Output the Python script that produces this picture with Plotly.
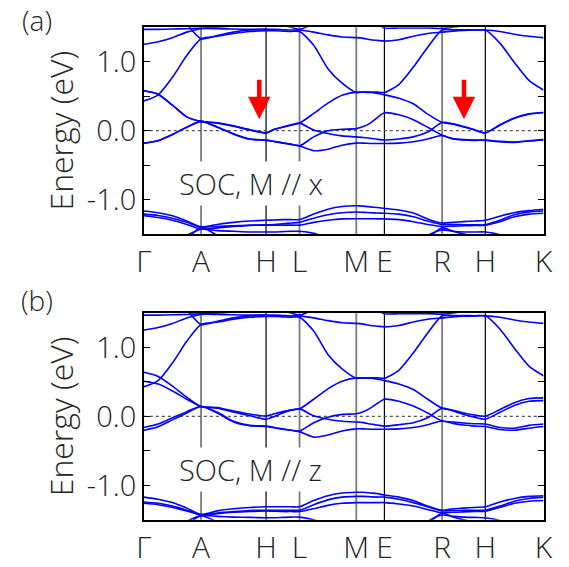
import plotly.graph_objects as go
from plotly.subplots import make_subplots

# ---------------- data ----------------
K_LABELS = ["Γ", "A", "H", "L", "M", "E", "R", "H", "K"]
K_POS = [0.0, 0.59, 1.26, 1.605, 2.19, 2.48, 3.075, 3.52, 4.12]
FRACS = [0.0, 0.25, 0.5, 0.75]

# conduction bands (shared by both panels)
C1 = [[0.43, 0.52, 0.775, 1.09, 1.335], [1.335, 1.37, 1.41, 1.44, 1.45], [1.45, 1.45, 1.445, 1.44, 1.44],
      [1.44, 1.24, 0.90, 0.69, 0.555], [0.555, 0.56, 0.56, 0.56, 0.555], [0.555, 0.67, 0.92, 1.21, 1.46],
      [1.46, 1.465, 1.465, 1.46, 1.46], [1.46, 1.27, 0.99, 0.73, 0.59]]
C2 = [[1.255, 1.29, 1.35, 1.43, 1.48], [1.48, 1.48, 1.475, 1.47, 1.47], [1.47, 1.47, 1.465, 1.46, 1.46],
      [1.46, 1.43, 1.39, 1.36, 1.35], [1.35, 1.34, 1.32, 1.31, 1.30], [1.30, 1.32, 1.37, 1.41, 1.43],
      [1.43, 1.445, 1.455, 1.46, 1.46], [1.46, 1.44, 1.40, 1.37, 1.35]]
C3 = [[1.47, 1.47, 1.475, 1.48, 1.49], [1.49, 1.50, 1.52, 1.55, 1.58], [1.58, 1.56, 1.53, 1.50, 1.47],
      [1.47, 1.55, 1.65, 1.72, 1.75], [1.75, 1.70, 1.62, 1.55, 1.49], [1.49, 1.49, 1.49, 1.49, 1.485],
      [1.485, 1.50, 1.53, 1.57, 1.60], [1.60, 1.65, 1.70, 1.72, 1.73]]
C4 = [[2.3, 2.05, 1.78, 1.55, 1.335], [1.335, 1.38, 1.43, 1.46, 1.47], [None] * 5, [None] * 5,
      [None] * 5, [None] * 5, [None] * 5, [None] * 5]

# panel (a): M // x
MA1 = [[0.58, 0.53, 0.37, 0.20, 0.135], [0.135, 0.11, 0.065, 0.01, -0.035], [-0.035, 0.02, 0.05, 0.08, 0.11],
       [0.11, 0.25, 0.40, 0.515, 0.56], [0.56, 0.56, 0.555, 0.54, 0.52], [0.52, 0.47, 0.39, 0.24, 0.12],
       [0.12, 0.095, 0.055, 0.01, -0.035], [-0.035, 0.08, 0.18, 0.24, 0.26]]
MA2 = [[-0.18, -0.145, -0.055, 0.05, 0.135], [0.135, 0.05, -0.05, -0.125, -0.14], [-0.14, -0.16, -0.18, -0.20, -0.22],
       [-0.22, -0.29, -0.27, -0.21, -0.18], [-0.18, -0.18, -0.185, -0.185, -0.185], [-0.185, -0.18, -0.16, -0.12, -0.07],
       [-0.07, -0.12, -0.135, -0.14, -0.14], [-0.14, -0.16, -0.17, -0.15, -0.135]]
MA3 = [[0.58, 0.53, 0.37, 0.20, 0.135], [0.135, 0.115, 0.07, 0.015, -0.03], [-0.03, 0.02, 0.055, 0.085, 0.11],
       [0.11, 0.01, -0.04, -0.075, -0.09], [-0.09, -0.10, -0.11, -0.125, -0.135], [-0.135, -0.12, -0.09, -0.02, 0.12],
       [0.12, 0.10, 0.06, 0.015, -0.03], [-0.03, 0.085, 0.185, 0.245, 0.265]]
MA4 = [[-0.18, -0.145, -0.055, 0.05, 0.135], [0.135, 0.055, -0.045, -0.12, -0.135], [-0.135, -0.155, -0.175, -0.195, -0.22],
       [-0.22, -0.09, -0.0, 0.02, 0.03], [0.03, 0.06, 0.11, 0.19, 0.26], [0.26, 0.23, 0.16, 0.05, -0.065],
       [-0.065, -0.115, -0.13, -0.135, -0.135], [-0.135, -0.155, -0.165, -0.145, -0.13]]
VA1 = [[-1.165, -1.19, -1.235, -1.31, -1.395], [-1.395, -1.36, -1.33, -1.31, -1.30], [-1.30, -1.295, -1.29, -1.29, -1.29],
       [-1.29, -1.21, -1.14, -1.10, -1.09], [-1.09, -1.095, -1.105, -1.115, -1.127], [-1.127, -1.15, -1.195, -1.28, -1.34],
       [-1.34, -1.33, -1.32, -1.31, -1.30], [-1.30, -1.24, -1.19, -1.16, -1.14]]
VA2 = [[-1.21, -1.23, -1.27, -1.33, -1.40], [-1.40, -1.39, -1.38, -1.37, -1.365], [-1.365, -1.36, -1.35, -1.34, -1.33],
       [-1.33, -1.27, -1.22, -1.19, -1.18], [-1.18, -1.185, -1.19, -1.195, -1.197], [-1.197, -1.21, -1.25, -1.31, -1.36],
       [-1.36, -1.362, -1.364, -1.366, -1.366], [-1.366, -1.30, -1.22, -1.18, -1.165]]
VA3 = [[-1.235, -1.26, -1.30, -1.36, -1.43], [-1.43, -1.41, -1.39, -1.375, -1.37], [-1.37, -1.37, -1.37, -1.37, -1.37],
       [-1.37, -1.33, -1.30, -1.28, -1.277], [-1.277, -1.277, -1.278, -1.279, -1.28], [-1.28, -1.29, -1.32, -1.36, -1.39],
       [-1.39, -1.385, -1.38, -1.375, -1.37], [-1.37, -1.32, -1.25, -1.21, -1.197]]
VA4 = [[-1.85, -1.75, -1.65, -1.52, -1.43], [-1.43, -1.45, -1.46, -1.47, -1.47], [-1.47, -1.47, -1.465, -1.46, -1.46],
       [-1.46, -1.49, -1.56, -1.65, -1.72], [-1.72, -1.75, -1.78, -1.80, -1.82], [-1.82, -1.80, -1.68, -1.52, -1.44],
       [-1.44, -1.46, -1.47, -1.47, -1.47], [-1.47, -1.51, -1.60, -1.70, -1.78]]
VA5 = [[-2.0, -1.9, -1.8, -1.58, -1.40], [-1.40, -1.52, -1.62, -1.70, -1.75], [-1.75, -1.75, -1.75, -1.75, -1.75],
       [-1.75, -1.78, -1.80, -1.82, -1.84], [-1.84, -1.85, -1.86, -1.86, -1.85], [-1.85, -1.82, -1.72, -1.56, -1.41],
       [-1.41, -1.46, -1.50, -1.53, -1.55], [-1.55, -1.60, -1.68, -1.75, -1.80]]

# panel (b): M // z
MB1 = [[0.64, 0.58, 0.44, 0.28, 0.145], [0.145, 0.13, 0.08, 0.035, 0.005], [0.005, 0.04, 0.07, 0.095, 0.11],
       [0.11, 0.25, 0.40, 0.51, 0.56], [0.56, 0.56, 0.555, 0.54, 0.52], [0.52, 0.47, 0.39, 0.25, 0.12],
       [0.12, 0.09, 0.05, 0.02, 0.005], [0.005, 0.10, 0.20, 0.26, 0.27]]
MB2 = [[0.51, 0.47, 0.37, 0.25, 0.145], [0.145, 0.12, 0.065, 0.01, -0.04], [-0.04, 0.0, 0.05, 0.09, 0.11],
       [0.11, 0.01, -0.04, -0.07, -0.08], [-0.08, -0.09, -0.11, -0.125, -0.14], [-0.14, -0.12, -0.09, -0.02, 0.12],
       [0.12, 0.08, 0.03, -0.01, -0.04], [-0.04, 0.06, 0.16, 0.22, 0.23]]
MB3 = [[-0.16, -0.11, -0.02, 0.07, 0.145], [0.145, 0.06, -0.07, -0.13, -0.14], [-0.14, -0.16, -0.18, -0.20, -0.21],
       [-0.21, -0.09, -0.01, 0.03, 0.04], [0.04, 0.07, 0.12, 0.19, 0.25], [0.25, 0.22, 0.15, 0.05, -0.065],
       [-0.065, -0.08, -0.095, -0.105, -0.11], [-0.11, -0.16, -0.17, -0.13, -0.11]]
MB4 = [[-0.20, -0.15, -0.05, 0.05, 0.145], [0.145, 0.05, -0.08, -0.135, -0.145], [-0.145, -0.165, -0.185, -0.20, -0.22],
       [-0.22, -0.30, -0.27, -0.21, -0.18], [-0.18, -0.18, -0.185, -0.185, -0.185], [-0.185, -0.18, -0.16, -0.12, -0.065],
       [-0.065, -0.10, -0.125, -0.14, -0.145], [-0.145, -0.19, -0.20, -0.17, -0.145]]
VB1 = [[-1.17, -1.20, -1.25, -1.33, -1.42], [-1.42, -1.37, -1.34, -1.32, -1.31], [-1.31, -1.31, -1.31, -1.31, -1.31],
       [-1.31, -1.22, -1.15, -1.11, -1.10], [-1.10, -1.10, -1.11, -1.12, -1.14], [-1.14, -1.17, -1.22, -1.30, -1.36],
       [-1.36, -1.34, -1.33, -1.32, -1.31], [-1.31, -1.24, -1.19, -1.16, -1.15]]
VB2 = [[-1.24, -1.26, -1.30, -1.36, -1.43], [-1.43, -1.40, -1.38, -1.365, -1.36], [-1.36, -1.36, -1.36, -1.36, -1.36],
       [-1.36, -1.28, -1.21, -1.17, -1.16], [-1.16, -1.16, -1.165, -1.17, -1.17], [-1.17, -1.20, -1.25, -1.31, -1.37],
       [-1.37, -1.365, -1.36, -1.36, -1.36], [-1.36, -1.30, -1.23, -1.19, -1.17]]
VB3 = [[-1.26, -1.28, -1.32, -1.37, -1.43], [-1.43, -1.41, -1.39, -1.38, -1.37], [-1.37, -1.375, -1.38, -1.38, -1.38],
       [-1.38, -1.34, -1.29, -1.26, -1.25], [-1.25, -1.25, -1.25, -1.25, -1.25], [-1.25, -1.27, -1.30, -1.35, -1.40],
       [-1.40, -1.39, -1.385, -1.38, -1.375], [-1.375, -1.32, -1.26, -1.23, -1.22]]
VB4 = [[-1.85, -1.75, -1.64, -1.52, -1.44], [-1.44, -1.45, -1.46, -1.465, -1.47], [-1.47, -1.47, -1.465, -1.46, -1.46],
       [-1.46, -1.50, -1.57, -1.65, -1.72], [-1.72, -1.75, -1.78, -1.80, -1.82], [-1.82, -1.80, -1.68, -1.52, -1.43],
       [-1.43, -1.45, -1.46, -1.465, -1.47], [-1.47, -1.51, -1.60, -1.70, -1.78]]
VB5 = [[-2.0, -1.9, -1.8, -1.58, -1.44], [-1.44, -1.53, -1.62, -1.70, -1.75], [-1.75, -1.75, -1.75, -1.75, -1.75],
       [-1.75, -1.78, -1.80, -1.82, -1.84], [-1.84, -1.85, -1.86, -1.86, -1.85], [-1.85, -1.82, -1.72, -1.56, -1.40],
       [-1.40, -1.46, -1.50, -1.53, -1.55], [-1.55, -1.60, -1.68, -1.75, -1.80]]

PANEL_A_BANDS = [C1, C2, C3, C4, MA1, MA2, MA3, MA4, VA1, VA2, VA3, VA4, VA5]
PANEL_B_BANDS = [C1, C2, C3, C4, MB1, MB2, MB3, MB4, VB1, VB2, VB3, VB4, VB5]
PANEL_TEXT = ["SOC, M // x", "SOC, M // z"]
PANEL_TAG = ["(a)", "(b)"]
ARROW_K = [1.19, 3.30]
ARROW_E = [0.165, 0.76]
VLINE_GRAY = [True, False, True, True, False, True, False]  # A H L M E R H

# ---------------- helpers ----------------
k_grid = []
for i in range(len(K_POS) - 1):
    for f in FRACS:
        k_grid.append(K_POS[i] + f * (K_POS[i + 1] - K_POS[i]))
k_grid.append(K_POS[-1])


def flatten(segs):
    out = list(segs[0])
    for s in segs[1:]:
        out += list(s[1:])
    return out


FONT = "Open Sans"
TXT = "#262626"
BLUE = "#0000ff"

fig = make_subplots(rows=2, cols=1)

W, H = 569, 567
dom_x = [140 / W, 552 / W]
dom_y = [[1 - 240 / H, 1 - 28 / H], [1 - 533 / H, 1 - 321 / H]]
TAG_Y = [1 - 21 / H, 1 - 308 / H]

for p, bands in enumerate([PANEL_A_BANDS, PANEL_B_BANDS]):
    row = p + 1
    for b in bands:
        fig.add_trace(go.Scatter(x=k_grid, y=flatten(b), mode="lines",
                                 line=dict(color=BLUE, width=1.6, shape="spline", smoothing=0.7),
                                 hoverinfo="skip", showlegend=False), row=row, col=1)
    xa = "x" if p == 0 else "x2"
    ya = "y" if p == 0 else "y2"
    # vertical lines at high-symmetry points
    for j, kx in enumerate(K_POS[1:-1]):
        fig.add_shape(type="line", xref=xa, yref=ya + " domain", x0=kx, x1=kx, y0=0, y1=1,
                      line=dict(color="#7a7a7a" if VLINE_GRAY[j] else "#000000",
                                width=1.8 if VLINE_GRAY[j] else 1.2),
                      layer="below")
    # Fermi level
    fig.add_shape(type="line", xref=xa + " domain", yref=ya, x0=0, x1=1, y0=0, y1=0,
                  line=dict(color="#555555", width=1.3, dash="dot"), layer="below")
    fig.add_annotation(x=1.10, y=-0.77, xref=xa, yref=ya, text=PANEL_TEXT[p], showarrow=False,
                       font=dict(family=FONT, size=29, color=TXT, weight=300),
                       bgcolor="white", borderpad=2)
    fig.add_annotation(x=30 / W, y=TAG_Y[p], xref="paper", yref="paper", text=PANEL_TAG[p],
                       showarrow=False, yanchor="middle", xanchor="center",
                       font=dict(family=FONT, size=28, color=TXT, weight=300))

# red arrows (panel a)
for ak in ARROW_K:
    fig.add_annotation(x=ak, y=ARROW_E[0], ax=ak, ay=ARROW_E[1], xref="x", yref="y", axref="x", ayref="y",
                       text="", showarrow=True, arrowhead=2, arrowsize=1.0, arrowwidth=4.5,
                       arrowcolor="#ff0000", standoff=0)

axis_common = dict(showline=True, linecolor="black", linewidth=1.6, mirror=True)
for p in range(2):
    r = p + 1
    fig.update_xaxes(domain=dom_x, range=[K_POS[0], K_POS[-1]], tickvals=K_POS, ticktext=K_LABELS,
                     ticks="", showgrid=False, zeroline=False,
                     tickfont=dict(family=FONT, size=30, color=TXT, weight=300),
                     row=r, col=1, **axis_common)
    fig.update_yaxes(domain=dom_y[p], range=[-1.5, 1.5], tickvals=[-1.0, -0.5, 0.0, 0.5, 1.0],
                     ticktext=["-1.0", "", "0.0", "", "1.0"], ticks="inside", ticklen=6, tickwidth=1.4,
                     tickcolor="black", showgrid=False, zeroline=False,
                     tickfont=dict(family=FONT, size=29, color=TXT, weight=300),
                     title=dict(text="Energy (eV)", standoff=4,
                                font=dict(family=FONT, size=32, color=TXT, weight=300)),
                     row=r, col=1, showline=True, linecolor="black", linewidth=1.6, mirror="ticks")

fig.update_layout(width=W, height=H, margin=dict(l=0, r=0, t=0, b=0),
                  paper_bgcolor="white", plot_bgcolor="white", showlegend=False)

fig.write_html("out.html")
